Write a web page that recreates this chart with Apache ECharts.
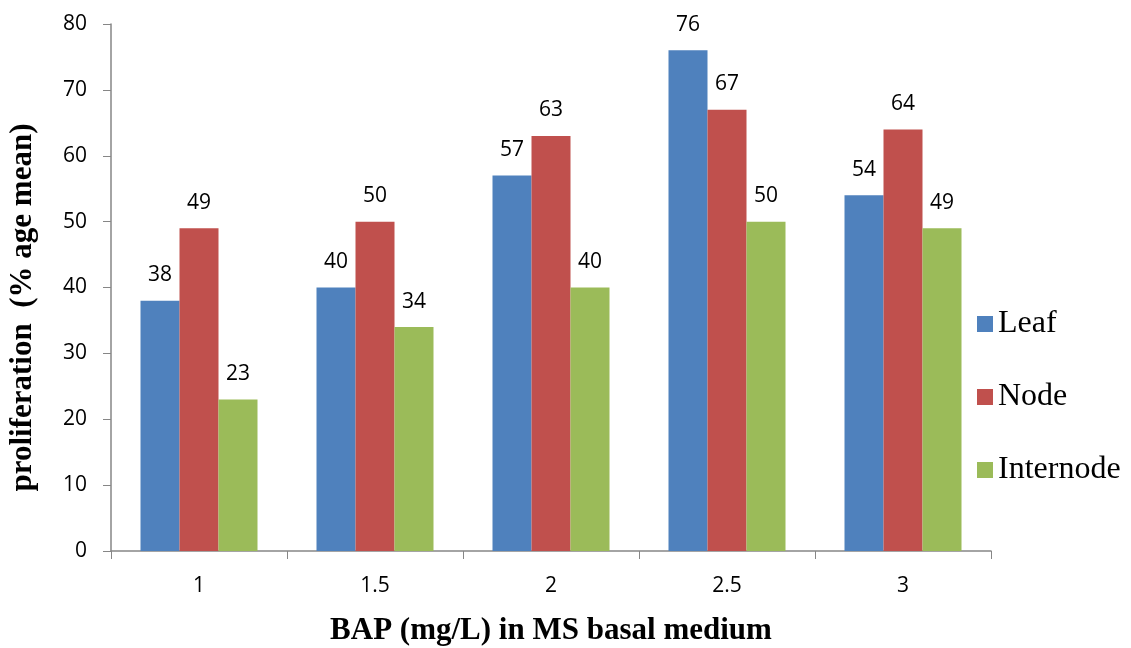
<!DOCTYPE html>
<html>
<head>
<meta charset="utf-8">
<script src="https://cdn.jsdelivr.net/npm/echarts@6/dist/echarts.min.js"></script>
<style>
  html, body { margin: 0; padding: 0; background: #fff; }
  #chart { width: 1131px; height: 648px; }
</style>
</head>
<body>
<div id="chart"></div>
<script>
// BAP concentrations on the x axis
const categories = ['1', '1.5', '2', '2.5', '3'];
// Proliferation (% age mean) per explant type
const leaf = [38, 40, 57, 76, 54];
const node = [49, 50, 63, 67, 64];
const internode = [23, 34, 40, 50, 49];

const colors = ['#4F81BD', '#C0504D', '#9BBB59'];
const tickFont = '"Open Sans", "Noto Sans", sans-serif';
const serif = '"Liberation Serif", "Times New Roman", serif';

function barSeries(name, data, color) {
  return {
    name: name,
    type: 'bar',
    data: data,
    barWidth: 39,
    barGap: '0%',
    itemStyle: { color: color },
    label: {
      show: true,
      position: 'top',
      distance: 15,
      color: '#000',
      fontFamily: tickFont,
      fontSize: 21
    }
  };
}

const chart = echarts.init(document.getElementById('chart'));
chart.setOption({
  animation: false,
  color: colors,
  grid: { left: 111, right: 140, top: 24, bottom: 97, containLabel: false, outerBoundsMode: 'none' },
  legend: {
    orient: 'vertical',
    left: 972,
    top: 303,
    itemWidth: 16,
    itemHeight: 16,
    itemGap: 41,
    icon: 'rect',
    textStyle: { fontFamily: serif, fontSize: 32, color: '#000' },
    data: ['Leaf', 'Node', 'Internode']
  },
  xAxis: {
    type: 'category',
    data: categories,
    name: 'BAP (mg/L) in MS basal medium',
    nameLocation: 'middle',
    nameGap: 64,
    nameTextStyle: { fontFamily: serif, fontSize: 31, fontWeight: 'bold', color: '#000' },
    axisLine: { lineStyle: { color: '#868686', width: 1.5 } },
    axisTick: { show: true, length: 8, lineStyle: { color: '#868686' } },
    axisLabel: { fontFamily: tickFont, fontSize: 21, color: '#000', margin: 25 }
  },
  yAxis: {
    type: 'value',
    min: 0,
    max: 80,
    interval: 10,
    name: 'proliferation  (% age mean)',
    nameLocation: 'middle',
    nameGap: 73,
    nameTextStyle: {
      fontFamily: serif, fontSize: 31, fontWeight: 'bold', color: '#000',
      padding: [0, 40, 0, 0]
    },
    axisLine: { show: true, lineStyle: { color: '#868686', width: 1.5 } },
    axisTick: { show: true, length: 8, lineStyle: { color: '#868686' } },
    axisLabel: { fontFamily: tickFont, fontSize: 21, color: '#000', margin: 24 },
    splitLine: { show: false }
  },
  series: [
    barSeries('Leaf', leaf, colors[0]),
    barSeries('Node', node, colors[1]),
    barSeries('Internode', internode, colors[2])
  ]
});
</script>
</body>
</html>
